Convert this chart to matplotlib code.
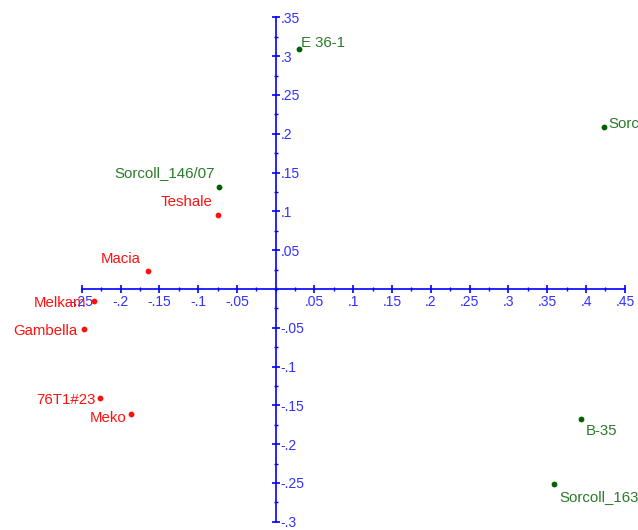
"""Biplot-style scatter of genotypes on the first two axes, axes crossing at 0."""

import matplotlib

matplotlib.use("Agg")
import matplotlib.pyplot as plt  # noqa: E402
from matplotlib.ticker import FixedLocator, FuncFormatter  # noqa: E402

_BLUE = "#0000ff"
_LABEL_BLUE = "#3030ff"
_RED = "#ff1010"
_GREEN_DOT = "#006000"
_GREEN_TXT = "#2a7a2a"

# group 1 (red)
red_names = ["Teshale", "Macia", "Melkam", "Gambella", "76T1#23", "Meko"]
red_x = [-0.074, -0.164, -0.234, -0.247, -0.226, -0.186]
red_y = [0.095, 0.023, -0.016, -0.052, -0.141, -0.161]

# group 2 (green)
green_names = ["E 36-1", "Sorcoll_141/07", "Sorcoll_146/07", "B-35", "Sorcoll_163/07"]
green_x = [0.030, 0.423, -0.073, 0.393, 0.359]
green_y = [0.309, 0.209, 0.131, -0.167, -0.251]

x_ticks = [-0.25, -0.2, -0.15, -0.1, -0.05, 0.05, 0.1, 0.15, 0.2, 0.25, 0.3, 0.35, 0.4, 0.45]
y_ticks = [-0.3, -0.25, -0.2, -0.15, -0.1, -0.05, 0.05, 0.1, 0.15, 0.2, 0.25, 0.3, 0.35]

# label placement (offset in points, horizontal alignment)
label_pos = {
    "Teshale": ((-4.5, 9.5), "right"),
    "Macia": ((-5.5, 8.5), "right"),
    "Melkam": ((-5.5, -1.5), "right"),
    "Gambella": ((-5, -1.5), "right"),
    "76T1#23": ((-3.5, -1.5), "right"),
    "Meko": ((-3.5, -3), "right"),
    "E 36-1": ((1.5, 4.5), "left"),
    "Sorcoll_141/07": ((3.5, 2.5), "left"),
    "Sorcoll_146/07": ((-3, 10), "right"),
    "B-35": ((4, -9), "left"),
    "Sorcoll_163/07": ((3.5, -9.5), "left"),
}

plt.rcParams["font.family"] = ["Liberation Sans", "DejaVu Sans"]
plt.rcParams["font.size"] = 10


def fmt(v, _pos):
    if abs(v) < 1e-9:
        return ""
    s = f"{v:.2f}".rstrip("0")
    return s.replace("0.", ".")


def minor_between(ticks):
    lo, hi = ticks[0], ticks[-1]
    n = int(round((hi - lo) / 0.025))
    return [lo + 0.025 * i for i in range(n + 1)]


fig = plt.figure(figsize=(6.38, 5.30), dpi=100)
ax = fig.add_axes([0, 0, 1, 1])
ax.set_xlim(-0.3553, 0.4669)
ax.set_ylim(-0.3106, 0.3724)
ax.patch.set_visible(False)

ax.spines["left"].set_visible(False)
ax.spines["top"].set_visible(False)
ax.spines["bottom"].set_position(("data", 0))
ax.spines["right"].set_position(("data", 0))
ax.spines["bottom"].set_bounds(x_ticks[0], x_ticks[-1])
ax.spines["right"].set_bounds(y_ticks[0], y_ticks[-1])
for s in ("bottom", "right"):
    ax.spines[s].set_color(_BLUE)
    ax.spines[s].set_linewidth(1.2)

ax.yaxis.tick_right()
ax.set_xticks(x_ticks)
ax.set_yticks(y_ticks)
ax.xaxis.set_minor_locator(FixedLocator(minor_between(x_ticks)))
ax.yaxis.set_minor_locator(FixedLocator(minor_between(y_ticks)))
ax.xaxis.set_major_formatter(FuncFormatter(fmt))
ax.yaxis.set_major_formatter(FuncFormatter(fmt))
ax.tick_params(which="major", direction="inout", length=6, width=1.2,
               color=_BLUE, labelcolor=_LABEL_BLUE, labelsize=10)
ax.tick_params(which="minor", direction="inout", length=3, width=1.0, color=_BLUE)
ax.tick_params(axis="x", which="major", pad=1.5)
ax.tick_params(axis="y", which="major", pad=0.5)

ax.scatter(red_x, red_y, s=10, color=_RED, zorder=3, clip_on=False)
ax.scatter(green_x, green_y, s=10, color=_GREEN_DOT, zorder=3, clip_on=False)

for names, xs, ys, col in ((red_names, red_x, red_y, _RED),
                           (green_names, green_x, green_y, _GREEN_TXT)):
    for n, x, y in zip(names, xs, ys):
        off, ha = label_pos[n]
        ax.annotate(n, (x, y), xytext=off, textcoords="offset points",
                    ha=ha, va="center", color=col, fontsize=10.8)

fig.savefig("out.png", dpi=100, facecolor="white")
